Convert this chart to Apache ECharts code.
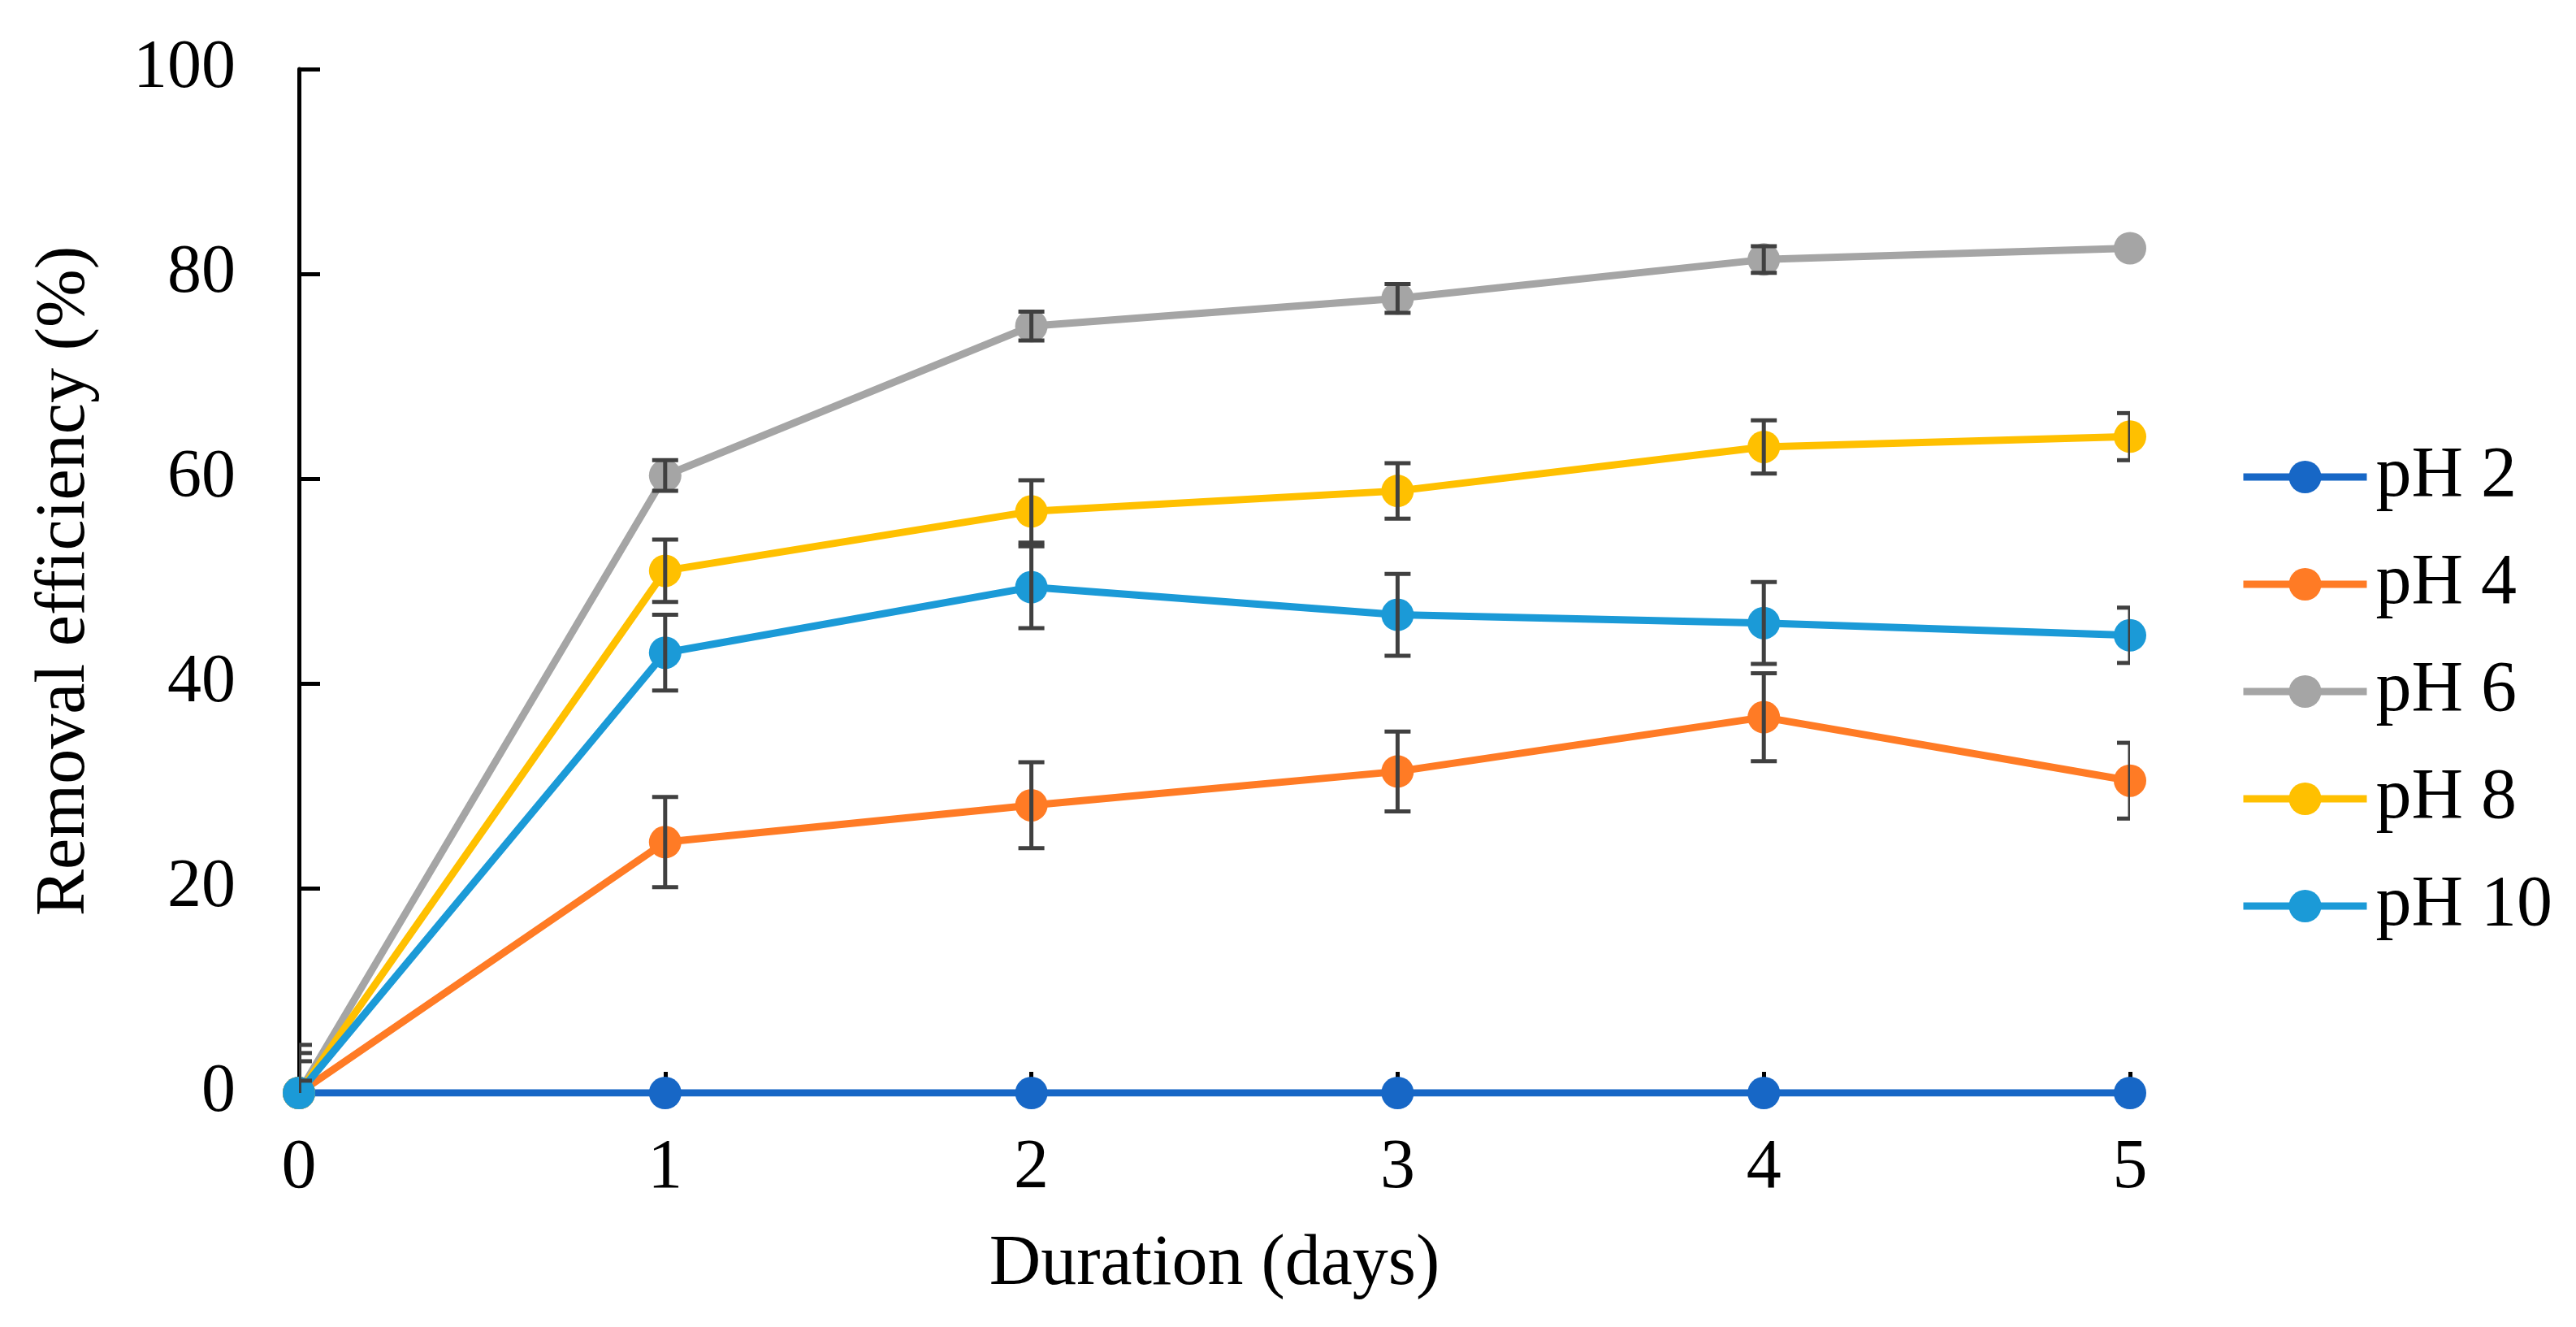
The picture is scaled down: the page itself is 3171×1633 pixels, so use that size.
<!DOCTYPE html>
<html>
<head>
<meta charset="utf-8">
<script src="https://cdn.jsdelivr.net/npm/echarts@6/dist/echarts.min.js"></script>
<style>
html,body{margin:0;padding:0;background:#fff;}
#chart{width:3171px;height:1633px;}
</style>
</head>
<body>
<div id="chart"></div>
<script>
const days = [0, 1, 2, 3, 4, 5];
const seriesNames = ['pH 2', 'pH 4', 'pH 6', 'pH 8', 'pH 10'];
const pH2 = [0, 0, 0, 0, 0, 0];
const pH4 = [0, 24.5, 28.1, 31.4, 36.7, 30.5];
const pH6 = [0, 60.3, 74.9, 77.6, 81.4, 82.5];
const pH8 = [0, 51.0, 56.8, 58.8, 63.1, 64.1];
const pH10 = [0, 43.0, 49.4, 46.7, 45.9, 44.7];
const err2 = [0, 0, 0, 0, 0, 0];
const err4 = [4.7, 4.4, 4.2, 3.9, 4.3, 3.7];
const err6 = [1.2, 1.5, 1.4, 1.4, 1.3, 0];
const err8 = [3.1, 3.05, 3.05, 2.7, 2.6, 2.3];
const err10 = [3.9, 3.7, 4.0, 4.0, 4.0, 2.7];
const yTicks = [0, 20, 40, 60, 80, 100];
const xTicks = [0, 1, 2, 3, 4, 5];

const colors = ['#1767c6', '#ff7b25', '#a5a5a5', '#ffc000', '#1b9ad7'];
const values = [pH2, pH4, pH6, pH8, pH10];
const errs = [err2, err4, err6, err8, err10];
const FONT = 'Liberation Serif';

const chart = echarts.init(document.getElementById('chart'));

const lineSeries = seriesNames.map((name, i) => ({
  name: name,
  type: 'line',
  data: days.map((d, j) => [d, values[i][j]]),
  symbol: 'circle',
  symbolSize: 40,
  showSymbol: true,
  lineStyle: { color: colors[i], width: 9 },
  itemStyle: { color: colors[i] },
  z: 2 + i * 0.1,
  animation: false
}));

const errData = [];
seriesNames.forEach((name, i) => {
  days.forEach((d, j) => {
    if (errs[i][j] > 0) errData.push([d, values[i][j] - errs[i][j], values[i][j] + errs[i][j]]);
  });
});

const errorSeries = {
  type: 'custom',
  name: 'err',
  data: errData,
  clip: true,
  z: 5,
  silent: true,
  animation: false,
  encode: { x: 0, y: [1, 2] },
  renderItem: function (params, api) {
    const x = api.value(0);
    const lo = api.coord([x, api.value(1)]);
    const hi = api.coord([x, api.value(2)]);
    const hw = 16;
    const style = { stroke: '#404040', lineWidth: 5, fill: null };
    return {
      type: 'group',
      children: [
        { type: 'line', shape: { x1: lo[0], y1: lo[1], x2: hi[0], y2: hi[1] }, style: style },
        { type: 'line', shape: { x1: lo[0] - hw, y1: lo[1], x2: lo[0] + hw, y2: lo[1] }, style: style },
        { type: 'line', shape: { x1: hi[0] - hw, y1: hi[1], x2: hi[0] + hw, y2: hi[1] }, style: style }
      ]
    };
  }
};

chart.setOption({
  backgroundColor: '#ffffff',
  animation: false,
  textStyle: { fontFamily: FONT, color: '#000' },
  grid: { left: 368, right: 549, top: 85, bottom: 288, containLabel: false },
  legend: {
    data: seriesNames,
    orient: 'vertical',
    left: 2752,
    top: 538,
    itemWidth: 152,
    itemHeight: 50,
    itemGap: 44,
    lineStyle: { width: 9 },
    textStyle: { fontFamily: FONT, fontSize: 88, color: '#000', padding: [0, 0, 0, 6] }
  },
  xAxis: {
    type: 'value',
    min: 0,
    max: 5,
    interval: 1,
    name: 'Duration (days)',
    nameLocation: 'middle',
    nameGap: 168,
    nameTextStyle: { fontFamily: FONT, fontSize: 88, color: '#000' },
    axisLine: { show: true, lineStyle: { color: '#000', width: 5 } },
    axisTick: { show: true, inside: true, length: 26, lineStyle: { color: '#000', width: 5 } },
    axisLabel: { fontFamily: FONT, fontSize: 86, color: '#000', margin: 50,
      formatter: function (v) { return xTicks.indexOf(v) >= 0 ? String(v) : ''; } },
    splitLine: { show: false }
  },
  yAxis: {
    type: 'value',
    min: 0,
    max: 100,
    interval: 20,
    name: 'Removal efficiency (%)',
    nameLocation: 'middle',
    nameGap: 245,
    nameTextStyle: { fontFamily: FONT, fontSize: 86, color: '#000' },
    axisLine: { show: true, lineStyle: { color: '#000', width: 5 } },
    axisTick: { show: true, inside: true, length: 26, lineStyle: { color: '#000', width: 5 } },
    axisLabel: { fontFamily: FONT, fontSize: 84, color: '#000', margin: 78,
      formatter: function (v) { return yTicks.indexOf(v) >= 0 ? String(v) : ''; } },
    splitLine: { show: false }
  },
  series: lineSeries.concat([errorSeries])
});
</script>
</body>
</html>
